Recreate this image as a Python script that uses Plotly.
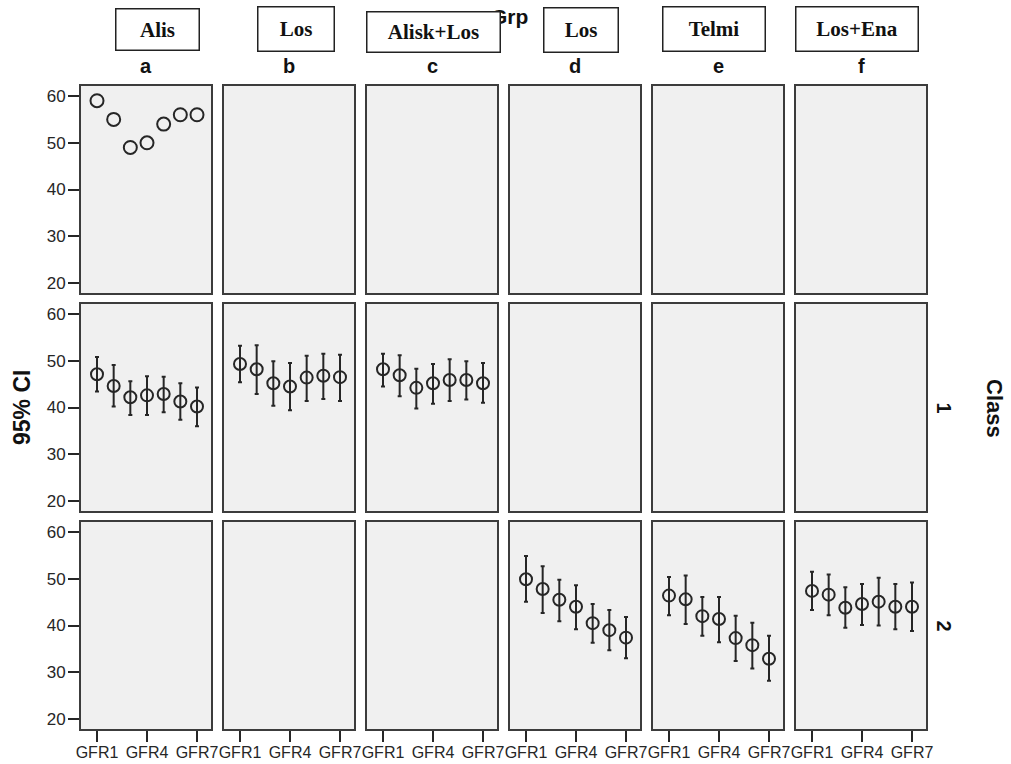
import plotly.graph_objects as go

W, H = 1011, 764

# ---- data -------------------------------------------------------------
visits = ["GFR1", "GFR2", "GFR3", "GFR4", "GFR5", "GFR6", "GFR7"]
shown_ticks = ["GFR1", "GFR4", "GFR7"]
panel_letters = ["a", "b", "c", "d", "e", "f"]
drug_names = ["Alis", "Los", "Alisk+Los", "Los", "Telmi", "Los+Ena"]
row_labels = ["", "1", "2"]

# top row, panel a: single values (no interval)
top_a_mean = [59, 55, 49, 50, 54, 56, 56]

# Class 1
c1_a_mean = [47.1, 44.6, 42.2, 42.6, 42.9, 41.3, 40.2]
c1_a_lo = [43.4, 40.2, 38.4, 38.4, 39.0, 37.4, 36.0]
c1_a_hi = [50.8, 49.1, 45.6, 46.7, 46.6, 45.2, 44.3]

c1_b_mean = [49.3, 48.2, 45.2, 44.5, 46.4, 46.8, 46.5]
c1_b_lo = [45.4, 42.9, 40.4, 39.4, 41.4, 41.8, 41.4]
c1_b_hi = [53.2, 53.3, 49.9, 49.5, 51.1, 51.5, 51.3]

c1_c_mean = [48.2, 46.9, 44.2, 45.2, 45.9, 45.9, 45.2]
c1_c_lo = [44.5, 42.4, 39.8, 40.8, 41.4, 41.7, 41.0]
c1_c_hi = [51.5, 51.2, 48.3, 49.3, 50.3, 49.9, 49.5]

# Class 2
c2_d_mean = [49.9, 47.8, 45.5, 44.0, 40.5, 39.0, 37.4]
c2_d_lo = [45.1, 42.7, 40.9, 39.2, 36.3, 34.7, 33.0]
c2_d_hi = [54.9, 52.7, 49.8, 48.6, 44.6, 43.3, 41.8]

c2_e_mean = [46.4, 45.6, 42.0, 41.4, 37.3, 35.8, 32.9]
c2_e_lo = [42.2, 40.3, 37.8, 36.4, 32.4, 30.8, 28.2]
c2_e_hi = [50.4, 50.7, 46.1, 46.1, 42.1, 40.6, 37.8]

c2_f_mean = [47.4, 46.6, 43.8, 44.6, 45.1, 44.0, 44.0]
c2_f_lo = [43.3, 42.2, 39.5, 40.1, 40.0, 39.2, 38.8]
c2_f_hi = [51.5, 50.9, 48.2, 48.9, 50.2, 48.9, 49.2]

# (row, col) -> (mean, lower, upper)
panel_data = {
    (0, 0): (top_a_mean, None, None),
    (1, 0): (c1_a_mean, c1_a_lo, c1_a_hi),
    (1, 1): (c1_b_mean, c1_b_lo, c1_b_hi),
    (1, 2): (c1_c_mean, c1_c_lo, c1_c_hi),
    (2, 3): (c2_d_mean, c2_d_lo, c2_d_hi),
    (2, 4): (c2_e_mean, c2_e_lo, c2_e_hi),
    (2, 5): (c2_f_mean, c2_f_lo, c2_f_hi),
}

# ---- layout geometry (pixels) ------------------------------------------
col_left = [81, 224, 367, 510, 653, 796]
panel_w = 130
row_top = [86, 304, 522]
panel_h = 207


def fx(p):
    return p / W


def fy(p):
    return 1 - p / H


INK = "#262626"
SANS = "Liberation Sans, Arial, sans-serif"
SERIF = "Liberation Serif, Times New Roman, serif"

fig = go.Figure()
layout = {}

for r in range(3):
    for c in range(6):
        k = r * 6 + c + 1
        xa = "x" if k == 1 else f"x{k}"
        ya = "y" if k == 1 else f"y{k}"
        xkey = "xaxis" if k == 1 else f"xaxis{k}"
        ykey = "yaxis" if k == 1 else f"yaxis{k}"

        data = panel_data.get((r, c))
        if data is None:
            # empty panel: registers the categories on its axis
            fig.add_trace(go.Scatter(x=visits, y=[None] * len(visits), xaxis=xa, yaxis=ya,
                                     mode="markers", showlegend=False, hoverinfo="skip"))
        else:
            mean, lo, hi = data
            err = None
            if lo is not None:
                err = dict(type="data", symmetric=False,
                           array=[h - m for h, m in zip(hi, mean)],
                           arrayminus=[m - l for m, l in zip(mean, lo)],
                           color=INK, thickness=2, width=2)
            fig.add_trace(go.Scatter(
                x=visits, y=mean, xaxis=xa, yaxis=ya, mode="markers",
                marker=dict(symbol="circle-open", size=13 if lo is None else 12,
                            color=INK, line=dict(width=2, color=INK)),
                error_y=err, showlegend=False))

        left = col_left[c]
        top = row_top[r]
        bottom_row = r == 2
        left_col = c == 0

        layout[xkey] = dict(
            domain=[fx(left), fx(left + panel_w)], anchor=ya, automargin=False,
            type="category", categoryorder="array", categoryarray=visits,
            range=[-0.96, 6.84], showgrid=False, zeroline=False,
            showline=True, mirror=True, linecolor="#3c3c3c", linewidth=2,
            ticks="outside" if bottom_row else "", ticklen=11, tickwidth=2, tickcolor=INK,
            tickmode="array", tickvals=shown_ticks, tickangle=0, ticklabelstandoff=-3,
            showticklabels=bottom_row,
            tickfont=dict(family=SANS, size=16, color=INK),
        )
        layout[ykey] = dict(
            domain=[fy(top + panel_h), fy(top)], anchor=xa, automargin=False,
            range=[17.85, 62.15], showgrid=False, zeroline=False,
            showline=True, mirror=True, linecolor="#3c3c3c", linewidth=2,
            ticks="outside" if left_col else "", ticklen=11, tickwidth=2, tickcolor=INK,
            tickmode="array", tickvals=[20, 30, 40, 50, 60], ticklabelstandoff=-1,
            showticklabels=left_col,
            tickfont=dict(family=SANS, size=17, color=INK),
        )

annotations = []

# facet title (partly covered by the drug boxes drawn after it)
annotations.append(dict(x=fx(509), y=fy(17), xref="paper", yref="paper",
                        text="<b>Grp</b>", showarrow=False, xanchor="center", yanchor="middle",
                        font=dict(family=SANS, size=21, color="#111")))

# column letters
for c, letter in enumerate(panel_letters):
    annotations.append(dict(x=fx(col_left[c] + panel_w / 2), y=fy(66), xref="paper", yref="paper",
                            text=f"<b>{letter}</b>", showarrow=False,
                            xanchor="center", yanchor="middle",
                            font=dict(family=SANS, size=20, color="#111")))

# drug name boxes: (x0, y0, x1, y1) in pixels
boxes = [(115, 9, 199, 51), (257, 6, 334, 51), (366, 11, 500, 52),
         (543, 7, 618, 52), (662, 6, 765, 51), (795, 6, 918, 51)]
for (x0, y0, x1, y1), name in zip(boxes, drug_names):
    annotations.append(dict(x=fx((x0 + x1) / 2), y=fy((y0 + y1) / 2), xref="paper", yref="paper",
                            text=f"<b>{name}</b>", showarrow=False,
                            xanchor="center", yanchor="middle",
                            width=x1 - x0 - 2, height=y1 - y0 - 2, borderpad=0,
                            bgcolor="white", bordercolor="#222", borderwidth=1.5,
                            font=dict(family=SERIF, size=21, color="#111")))

# y title
annotations.append(dict(x=fx(22), y=fy(408), xref="paper", yref="paper",
                        text="<b>95% CI</b>", showarrow=False, textangle=-90,
                        xanchor="center", yanchor="middle",
                        font=dict(family=SANS, size=23, color="#111")))

# row labels and row facet title
for r, lab in enumerate(row_labels):
    if lab:
        annotations.append(dict(x=fx(944), y=fy(row_top[r] + panel_h / 2), xref="paper", yref="paper",
                                text=f"<b>{lab}</b>", showarrow=False, textangle=90,
                                xanchor="center", yanchor="middle",
                                font=dict(family=SANS, size=20, color="#111")))
annotations.append(dict(x=fx(995), y=fy(408), xref="paper", yref="paper",
                        text="<b>Class</b>", showarrow=False, textangle=90,
                        xanchor="center", yanchor="middle",
                        font=dict(family=SANS, size=22, color="#111")))

fig.update_layout(
    width=W, height=H, autosize=False,
    margin=dict(l=0, r=0, t=0, b=0, pad=0, autoexpand=False),
    paper_bgcolor="white", plot_bgcolor="#f0f0f0",
    showlegend=False, annotations=annotations,
    **layout,
)

fig.write_html("out.html")
